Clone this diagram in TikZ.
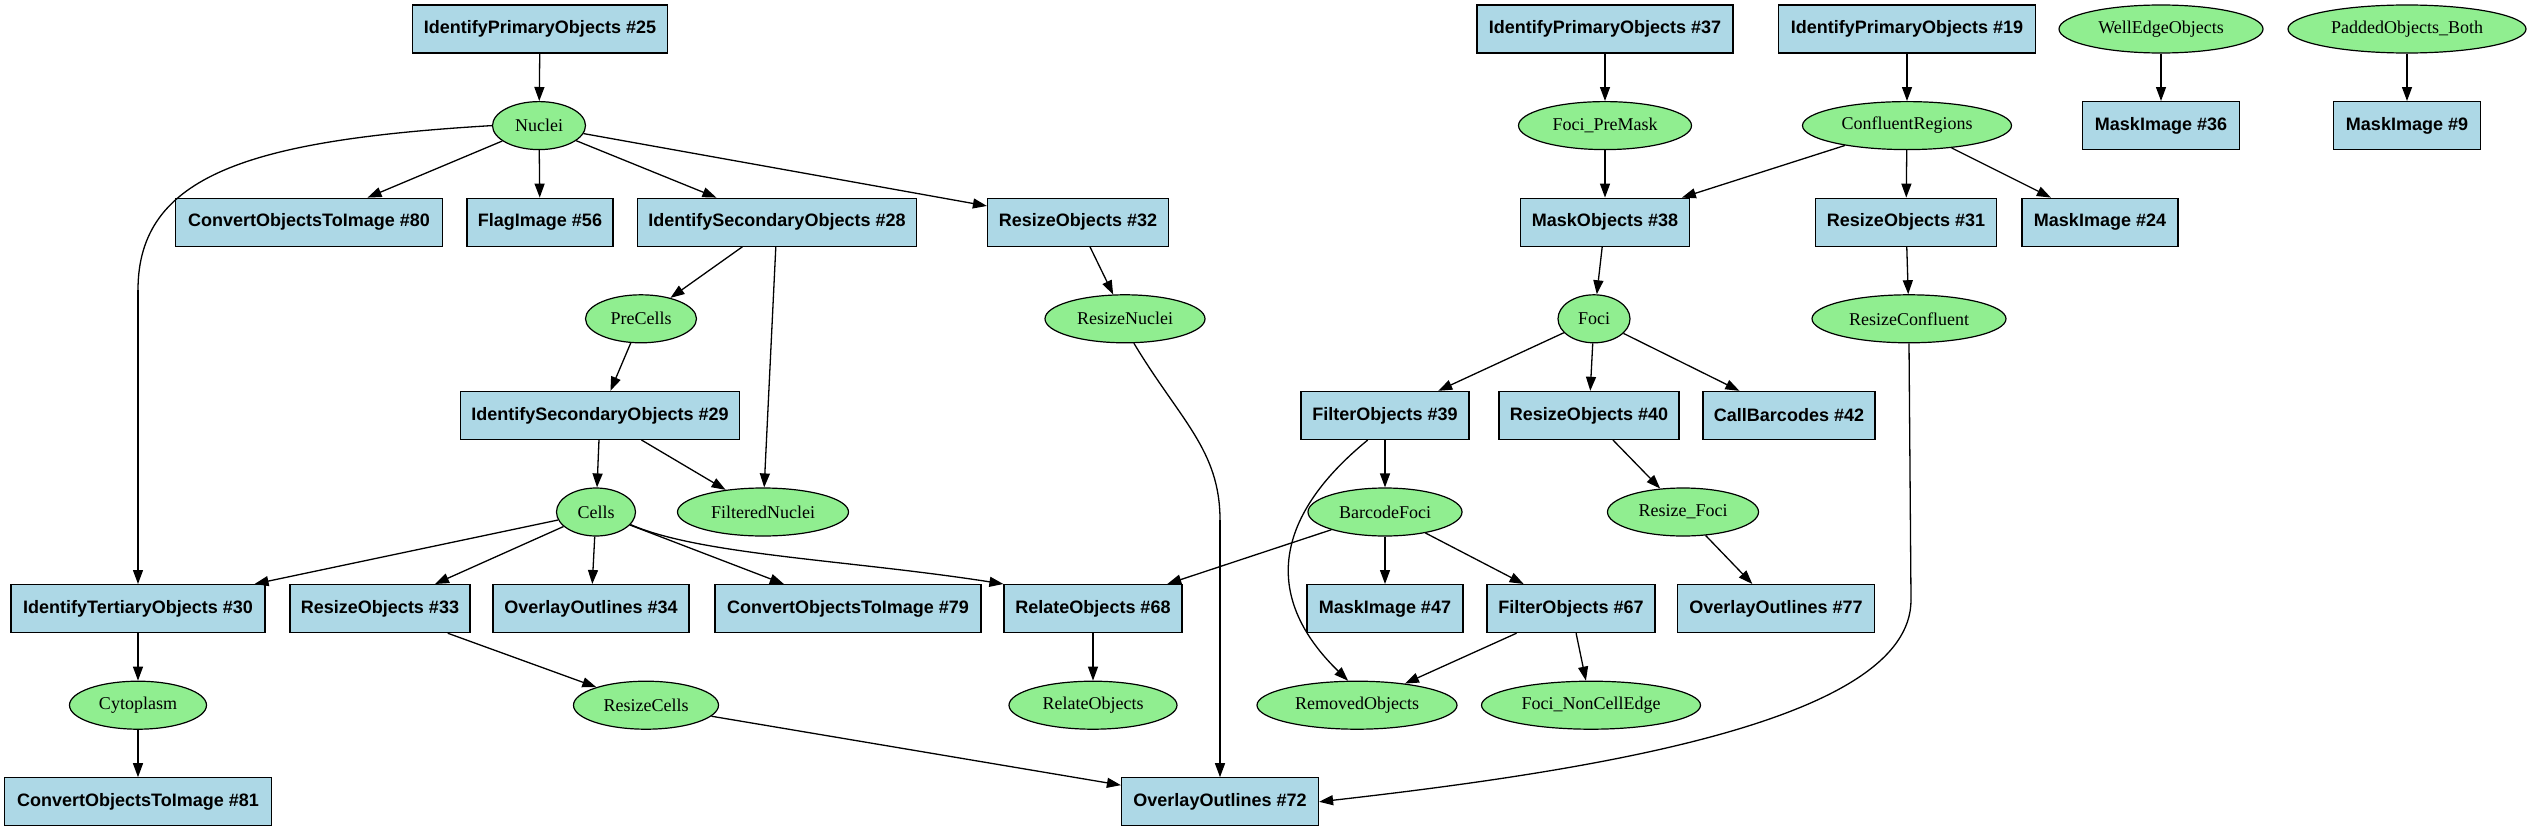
\documentclass[tikz,border=0pt]{standalone}
\usepackage{fontspec}
\setmainfont{Liberation Serif}
\newfontfamily\boxfont{Liberation Sans}
\usetikzlibrary{shapes.geometric,arrows.meta}
\definecolor{boxblue}{HTML}{ADD8E6}
\definecolor{objgreen}{HTML}{90EE90}
\newcommand{\zt}[1]{\makebox[0pt]{#1}}
\tikzset{
  proc/.style={rectangle, draw=black, line width=1.2pt, fill=boxblue,
    minimum width=#1, minimum height=48pt, inner sep=0pt,
    font=\boxfont\bfseries\fontsize{18}{21}\selectfont},
  obj/.style={ellipse, draw=black, line width=1.2pt, fill=objgreen,
    minimum width=#1, minimum height=48pt, inner sep=0pt,
    font=\fontsize{18}{21}\selectfont},
  edge/.style={draw=black, line width=1.3pt, -{Triangle[length=14pt,width=10pt]}}
}
\begin{document}
\begin{tikzpicture}[x=1pt,y=-1pt]
\useasboundingbox (0,0) rectangle (2527,827);
% row 0
\node[proc=255pt] (B25) at (540,29) {IdentifyPrimaryObjects \#25};
\node[proc=256pt] (B37) at (1605,29) {IdentifyPrimaryObjects \#37};
\node[proc=257pt] (B19) at (1907,29) {IdentifyPrimaryObjects \#19};
\node[obj=204pt] (WEO) at (2161,29) {\zt{WellEdgeObjects}};
\node[obj=238pt] (POB) at (2407,29) {\zt{PaddedObjects\_Both}};
% row 1
\node[obj=93pt] (Nuc) at (539,125.6) {\zt{Nuclei}};
\node[obj=173pt] (FPM) at (1605,125.6) {\zt{Foci\_PreMask}};
\node[obj=209pt] (CR) at (1907,125.6) {\zt{ConfluentRegions}};
\node[proc=157pt] (MI36) at (2161,125.6) {MaskImage \#36};
\node[proc=147pt] (MI9) at (2407,125.6) {MaskImage \#9};
% row 2
\node[proc=267pt] (C80) at (309,222.2) {ConvertObjectsToImage \#80};
\node[proc=146pt] (F56) at (540,222.2) {FlagImage \#56};
\node[proc=279pt] (IS28) at (777,222.2) {IdentifySecondaryObjects \#28};
\node[proc=181pt] (R32) at (1078,222.2) {ResizeObjects \#32};
\node[proc=169pt] (MO38) at (1605,222.2) {MaskObjects \#38};
\node[proc=181pt] (R31) at (1906,222.2) {ResizeObjects \#31};
\node[proc=156pt] (MI24) at (2100,222.2) {MaskImage \#24};
% row 3
\node[obj=111pt] (PC) at (641,318.8) {\zt{PreCells}};
\node[obj=160pt] (RN) at (1125,318.8) {\zt{ResizeNuclei}};
\node[obj=72pt] (Foci) at (1594,318.8) {\zt{Foci}};
\node[obj=194pt] (RC) at (1909,318.8) {\zt{ResizeConfluent}};
% row 4
\node[proc=279pt] (IS29) at (600,415.4) {IdentifySecondaryObjects \#29};
\node[proc=168pt] (F39) at (1385,415.4) {FilterObjects \#39};
\node[proc=180pt] (R40) at (1589,415.4) {ResizeObjects \#40};
\node[proc=172pt] (CB42) at (1789,415.4) {CallBarcodes \#42};
% row 5
\node[obj=79pt] (Cells) at (596,512) {\zt{Cells}};
\node[obj=171pt] (FN) at (763,512) {\zt{FilteredNuclei}};
\node[obj=154pt] (BF) at (1385,512) {\zt{BarcodeFoci}};
\node[obj=151pt] (RF) at (1683,512) {\zt{Resize\_Foci}};
% row 6
\node[proc=254pt] (IT30) at (138,608.6) {IdentifyTertiaryObjects \#30};
\node[proc=180pt] (R33) at (380,608.6) {ResizeObjects \#33};
\node[proc=196pt] (O34) at (591,608.6) {OverlayOutlines \#34};
\node[proc=266pt] (C79) at (848,608.6) {ConvertObjectsToImage \#79};
\node[proc=178pt] (R68) at (1093,608.6) {RelateObjects \#68};
\node[proc=156pt] (MI47) at (1385,608.6) {MaskImage \#47};
\node[proc=168pt] (F67) at (1571,608.6) {FilterObjects \#67};
\node[proc=197pt] (O77) at (1776,608.6) {OverlayOutlines \#77};
% row 7
\node[obj=137pt] (Cyto) at (138,705.2) {\zt{Cytoplasm}};
\node[obj=145pt] (RCe) at (646,705.2) {\zt{ResizeCells}};
\node[obj=168pt] (RO) at (1093,705.2) {\zt{RelateObjects}};
\node[obj=200pt] (Rem) at (1357,705.2) {\zt{RemovedObjects}};
\node[obj=219pt] (FNC) at (1591,705.2) {\zt{Foci\_NonCellEdge}};
% row 8
\node[proc=267pt] (C81) at (138,801.8) {ConvertObjectsToImage \#81};
\node[proc=197pt] (O72) at (1220,801.8) {OverlayOutlines \#72};
% helper coordinates for curved connectors
\coordinate (k1) at (138,290);
\coordinate (k2) at (1220,520);
\coordinate (k3) at (1911,600);
% edges
\draw[edge] (B25) -- (Nuc);
\draw[edge] (Nuc) -- (C80);
\draw[edge] (Nuc) -- (F56);
\draw[edge] (Nuc) -- (IS28);
\draw[edge] (Nuc) -- (R32);
\draw[line width=1.3pt] (Nuc.west) .. controls (250,140) and (138,175) .. (k1);
\draw[edge] (k1) -- (IT30.north);
\draw[edge] (IS28) -- (PC);
\draw[edge] (IS28) -- (FN);
\draw[edge] (PC) -- (IS29);
\draw[edge] (IS29) -- (Cells);
\draw[edge] (IS29) -- (FN);
\draw[edge] (Cells) -- (IT30);
\draw[edge] (Cells) -- (R33);
\draw[edge] (Cells) -- (O34);
\draw[edge] (Cells) -- (C79);
\draw[edge] (Cells.-20) .. controls (700,555) and (850,560) .. (R68.north west);
\draw[edge] (IT30) -- (Cyto);
\draw[edge] (Cyto) -- (C81);
\draw[edge] (R33) -- (RCe);
\draw[edge] (RCe) -- (O72);
\draw[edge] (R32) -- (RN);
\draw[line width=1.3pt] (RN.-70) .. controls (1180,420) and (1220,450) .. (k2);
\draw[edge] (k2) -- (O72.north);
\draw[edge] (B37) -- (FPM);
\draw[edge] (FPM) -- (MO38);
\draw[edge] (B19) -- (CR);
\draw[edge] (CR) -- (MO38);
\draw[edge] (CR) -- (R31);
\draw[edge] (CR) -- (MI24);
\draw[edge] (R31) -- (RC);
\draw[line width=1.3pt] (RC.south) -- (k3);
\draw[edge] (k3) .. controls (1911,720) and (1600,770) .. (O72.east);
\draw[edge] (MO38) -- (Foci);
\draw[edge] (Foci) -- (F39);
\draw[edge] (Foci) -- (R40);
\draw[edge] (Foci) -- (CB42);
\draw[edge] (F39) -- (BF);
\draw[edge] (F39.-125) .. controls (1270,520) and (1265,600) .. (Rem.110);
\draw[edge] (BF) -- (R68);
\draw[edge] (BF) -- (MI47);
\draw[edge] (BF) -- (F67);
\draw[edge] (R40) -- (RF);
\draw[edge] (RF) -- (O77);
\draw[edge] (F67) -- (Rem);
\draw[edge] (F67) -- (FNC);
\draw[edge] (R68) -- (RO);
\draw[edge] (WEO) -- (MI36);
\draw[edge] (POB) -- (MI9);
\end{tikzpicture}
\end{document}
